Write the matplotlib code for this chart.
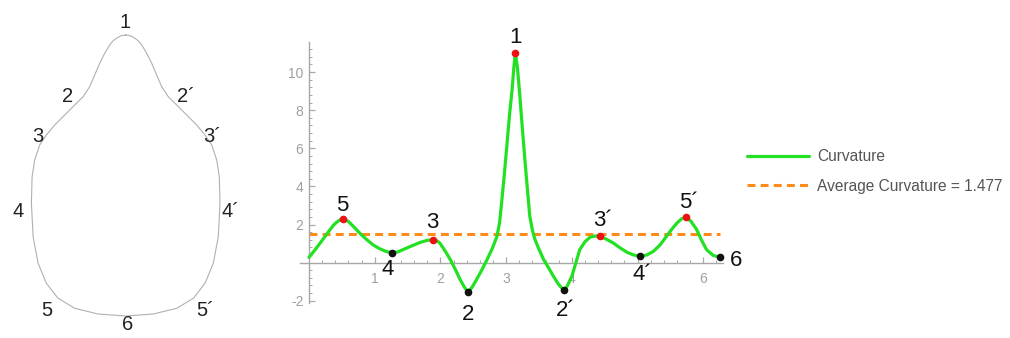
import matplotlib
matplotlib.use("Agg")
import matplotlib.pyplot as plt
from matplotlib.ticker import MultipleLocator
import numpy as np

# ---------------- data ----------------
# curvature curve (parameter t in [0, 2*pi])
curve_t = [0.00, 0.08, 0.17, 0.25, 0.32, 0.37, 0.42, 0.47, 0.51, 0.55, 0.60, 0.675, 0.78, 0.88, 0.98,
           1.08, 1.18, 1.26, 1.35, 1.49, 1.60, 1.69, 1.80, 1.88, 1.95, 1.99, 2.07,
           2.15, 2.23, 2.30, 2.37, 2.42, 2.48, 2.55, 2.63, 2.71, 2.79, 2.86, 2.90,
           2.93, 2.97, 3.01, 3.05, 3.09, 3.12, 3.14, 3.17, 3.21, 3.25, 3.29, 3.33,
           3.36, 3.40, 3.44, 3.50, 3.57, 3.65, 3.72, 3.80, 3.85, 3.88, 3.91, 3.94, 4.00, 4.06,
           4.12, 4.20, 4.28, 4.36, 4.43, 4.53, 4.63, 4.74, 4.84, 4.94, 5.04, 5.14,
           5.24, 5.34, 5.44, 5.52, 5.60, 5.67, 5.73, 5.81, 5.90, 5.97, 6.05, 6.15, 6.25]
curve_k = [0.28, 0.62, 1.03, 1.40, 1.73, 1.95, 2.12, 2.24, 2.28, 2.25, 2.16, 1.90, 1.52, 1.20, 0.92,
           0.72, 0.58, 0.52, 0.56, 0.77, 0.93, 1.06, 1.17, 1.20, 1.14, 1.03, 0.62,
           0.16, -0.38, -0.89, -1.32, -1.55, -1.30, -0.89, -0.38, 0.16, 0.75, 1.38, 2.10,
           3.10, 4.55, 6.10, 7.70, 9.06, 10.35, 11.00, 10.30, 8.70, 6.90, 5.20, 3.60,
           2.43, 1.70, 1.20, 0.70, 0.16, -0.30, -0.72, -1.15, -1.35, -1.42, -1.35, -1.15, -0.72, -0.02,
           0.68, 1.10, 1.34, 1.40, 1.38, 1.22, 1.03, 0.76, 0.54, 0.40, 0.33, 0.40,
           0.59, 0.92, 1.38, 1.75, 2.08, 2.30, 2.38, 2.18, 1.73, 1.20, 0.68, 0.38, 0.28]

avg_curvature = 1.477

# marked extrema
ext_t = [0.51, 1.26, 1.88, 2.42, 3.14, 3.88, 4.43, 5.04, 5.73, 6.25]
ext_k = [2.28, 0.52, 1.20, -1.55, 11.00, -1.42, 1.38, 0.33, 2.38, 0.28]
ext_is_max = [True, False, True, False, True, False, True, False, True, False]
ext_labels = ["5", "4", "3", "2", "1", "2\u00b4", "3\u00b4", "4\u00b4", "5\u00b4", "6"]

x_ticks = [1, 2, 3, 4, 5, 6]
x_tick_labels = ["1", "2", "3", "4", "", "6"]   # "5" is hidden under the 4´ label
y_ticks = [-2, 2, 4, 6, 8, 10]

# shape outline (right half, pixel coords)
outline_x = [125.7, 130.5, 135.0, 138.5, 141.7, 146.7, 151.7, 156.7, 161.7, 168.3, 176.7, 186.7,
             196.7, 205.0, 211.7, 216.7, 219.3, 220.0, 218.3, 213.3, 205.0, 193.3,
             176.7, 153.3, 125.7]
outline_y = [35.0, 35.8, 38.3, 41.0, 45.0, 53.3, 63.3, 75.0, 86.7, 96.7, 105.0, 115.0,
             125.0, 135.0, 145.0, 160.0, 176.7, 203.0, 236.7, 263.3, 283.3, 298.3,
             308.3, 314.0, 316.0]
shape_labels = ["1", "2", "2\u00b4", "3", "3\u00b4", "4", "4\u00b4", "5", "5\u00b4", "6"]

# ---------------- layout / style ----------------
W, H = 1010, 338
fig = plt.figure(figsize=(W / 100, H / 100), dpi=100)
plt.rcParams['font.family'] = ['Liberation Sans', 'DejaVu Sans']
plt.rcParams['axes.unicode_minus'] = False

# left panel: shape
axs = fig.add_axes([0, 0, 260 / W, 1])
axs.set_xlim(0, 260)
axs.set_ylim(338, 0)
axs.axis('off')
cx = outline_x[0]
full_x = list(outline_x) + [2 * cx - v for v in outline_x[::-1]]
full_y = list(outline_y) + list(outline_y[::-1])
axs.plot(full_x, full_y, color='#b0b0b0', lw=0.8, solid_joinstyle='round')
shape_label_pos = [(125, 23), (68, 97), (186, 97), (37.7, 136.7), (212, 136.7),
                   (18.3, 211.7), (230, 211.7), (46.7, 310), (205, 310), (128, 324)]
for lab, (px, py) in zip(shape_labels, shape_label_pos):
    axs.text(px, py, lab, fontsize=14.5, ha='center', va='center', color='#222222')

# right panel: curvature plot
x0, x1 = 300, 723
ytop, ybot = 42, 303
ax = fig.add_axes([x0 / W, (H - ybot) / H, (x1 - x0) / W, (ybot - ytop) / H])
ax.set_xlim(-0.137, 6.30)
ax.set_ylim(-2.12, 11.58)

for s in ['top', 'right']:
    ax.spines[s].set_visible(False)
ax.spines['left'].set_position(('data', 0))
ax.spines['bottom'].set_position(('data', 0))
axis_col = '#a8a8a8'
for s in ['left', 'bottom']:
    ax.spines[s].set_color(axis_col)
    ax.spines[s].set_linewidth(1.0)
ax.set_xticks(x_ticks)
ax.set_xticklabels(x_tick_labels)
ax.set_yticks(y_ticks)
ax.xaxis.set_minor_locator(MultipleLocator(0.2))
ax.yaxis.set_minor_locator(MultipleLocator(0.4))
ax.tick_params(which='both', direction='in', color=axis_col, labelcolor='#a0a0a0',
               labelsize=10)
ax.tick_params(which='major', length=4, width=0.9)
ax.tick_params(which='minor', length=2.2, width=0.7)
ax.tick_params(axis='x', pad=7)
ax.tick_params(axis='y', pad=4)

line_c, = ax.plot(curve_t, curve_k, color='#22e022', lw=2.3, solid_joinstyle='round',
                  solid_capstyle='round', zorder=3, label='Curvature')
line_a, = ax.plot([0, curve_t[-1]], [avg_curvature, avg_curvature], color='#ff8c1a',
                  lw=2.2, linestyle=(0, (2.6, 1.7)), zorder=2,
                  label='Average Curvature = %.3f' % avg_curvature)

for t, k, ismax in zip(ext_t, ext_k, ext_is_max):
    ax.plot([t], [k], 'o', ms=4.5, color='#ee1111' if ismax else '#111111',
            zorder=4, clip_on=False)

label_offsets = [(0, 14), (-4, -17), (0, 17), (0, -22), (0, 16),
                 (2, -21), (3, 16), (2, -18), (3, 15), (16, -3)]
for lab, t, k, (dx, dy) in zip(ext_labels, ext_t, ext_k, label_offsets):
    ax.annotate(lab, (t, k), xytext=(dx, dy), textcoords='offset pixels',
                ha='center', va='center', fontsize=16, color='#111111',
                annotation_clip=False, zorder=5)

leg = fig.legend(handles=[line_c, line_a], loc='upper left',
                 bbox_to_anchor=(747 / W, 1 - 149 / H), frameon=False,
                 fontsize=11.2, handlelength=4.0, handletextpad=0.5,
                 labelspacing=0.95, borderpad=0, borderaxespad=0)
for txt in leg.get_texts():
    txt.set_color('#555555')

fig.savefig('out.png', dpi=100)
